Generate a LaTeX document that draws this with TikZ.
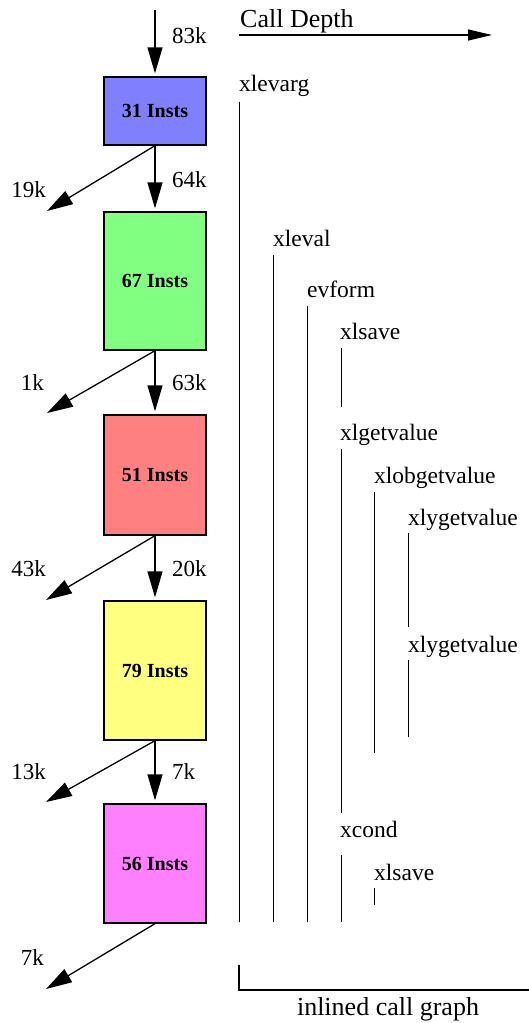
\documentclass[tikz,border=0pt]{standalone}
\usepackage{fontspec}
\setmainfont{Liberation Serif}
\usetikzlibrary{arrows.meta}
\definecolor{cblue}{HTML}{8080FF}
\definecolor{cgreen}{HTML}{80FF80}
\definecolor{cred}{HTML}{FF8080}
\definecolor{cyellow}{HTML}{FFFF80}
\definecolor{cmag}{HTML}{FF80FF}
\tikzset{
  box/.style={draw=black, line width=1.3pt, minimum width=102pt, inner sep=0pt,
    font=\fontsize{20}{24}\selectfont\bfseries},
  flow/.style={line width=1.3pt, -{Triangle[length=26pt,width=15pt]}, shorten >=3pt},
  side/.style={line width=1.3pt, -{Triangle[length=26pt,width=15pt]}},
  lbl/.style={inner sep=0pt, font=\fontsize{23}{27}\selectfont},
  fname/.style={inner sep=0pt, anchor=base west, font=\fontsize{23.5}{28}\selectfont},
  big/.style={inner sep=0pt, font=\fontsize{26}{30}\selectfont},
  cline/.style={line width=1pt}
}
\begin{document}
\begin{tikzpicture}[x=1pt,y=-1pt]
\useasboundingbox (0,0) rectangle (529,1023);
% boxes
\node[box, fill=cblue,   minimum height=68pt]  (b1) at (155,111) {31 Insts};
\node[box, fill=cgreen,  minimum height=138pt] (b2) at (155,281) {67 Insts};
\node[box, fill=cred,    minimum height=120pt] (b3) at (155,475) {51 Insts};
\node[box, fill=cyellow, minimum height=139pt] (b4) at (155,670.5) {79 Insts};
\node[box, fill=cmag,    minimum height=119pt] (b5) at (155,863.5) {56 Insts};
% endpoints
\coordinate (top) at (155,10);
\coordinate (d1) at (47,211);
\coordinate (d2) at (47,413);
\coordinate (d3) at (46,600);
\coordinate (d4) at (46,802);
\coordinate (d5) at (46,989);
% flow arrows
\draw[flow] (top) -- (b1.north);
\draw[flow] (b1.south) -- (b2.north);
\draw[flow] (b2.south) -- (b3.north);
\draw[flow] (b3.south) -- (b4.north);
\draw[flow] (b4.south) -- (b5.north);
\draw[side] (b1.south) -- (d1);
\draw[side] (b2.south) -- (d2);
\draw[side] (b3.south) -- (d3);
\draw[side] (b4.south) -- (d4);
\draw[side] (b5.south) -- (d5);
% labels
\node[lbl, anchor=base west] (l83) at (172,43) {83k};
\node[lbl, anchor=base west] (l64) at (172,187) {64k};
\node[lbl, anchor=base west] (l63) at (172,390) {63k};
\node[lbl, anchor=base west] (l20) at (172,576) {20k};
\node[lbl, anchor=base west] (l7a) at (172,779) {7k};
\node[lbl, anchor=base east] (l19) at (46,197) {19k};
\node[lbl, anchor=base east] (l1) at (44,390) {1k};
\node[lbl, anchor=base east] (l43) at (46,576) {43k};
\node[lbl, anchor=base east] (l13) at (46,779) {13k};
\node[lbl, anchor=base east] (l7b) at (44,965) {7k};
% call depth
\node[big, anchor=base west] (cd) at (240,27) {Call Depth};
\coordinate (cda) at (239,35);
\coordinate (cdb) at (492,35);
\draw[line width=1.3pt, -{Triangle[length=24pt,width=11pt]}] (cda) -- (cdb);
% function names
\node[fname] (f1) at (239,91) {xlevarg};
\node[fname] (f2) at (273,246) {xleval};
\node[fname] (f3) at (307,297) {evform};
\node[fname] (f4) at (340,339) {xlsave};
\node[fname] (f5) at (340,440) {xlgetvalue};
\node[fname] (f6) at (374,483) {xlobgetvalue};
\node[fname] (f7) at (408,525) {xlygetvalue};
\node[fname] (f8) at (408,652) {xlygetvalue};
\node[fname] (f9) at (340,837) {xcond};
\node[fname] (f10) at (374,880) {xlsave};
% call lines
\draw[cline] (239.5,102) -- (239.5,922);
\draw[cline] (273.5,255) -- (273.5,922);
\draw[cline] (307.5,306) -- (307.5,922);
\draw[cline] (341,348) -- (341,407);
\draw[cline] (341,449) -- (341,813);
\draw[cline] (374.5,492) -- (374.5,753);
\draw[cline] (408.5,533) -- (408.5,627);
\draw[cline] (408.5,660) -- (408.5,737);
\draw[cline] (341,855) -- (341,922);
\draw[cline] (374.5,888) -- (374.5,905);
% bracket
\coordinate (br1) at (239,965);
\coordinate (br2) at (239,990);
\coordinate (br3) at (529,990);
\draw[line width=1.2pt] (br1) -- (br2) -- (br3);
\node[big, anchor=base] (icg) at (388,1015) {inlined call graph};
\end{tikzpicture}
\end{document}
